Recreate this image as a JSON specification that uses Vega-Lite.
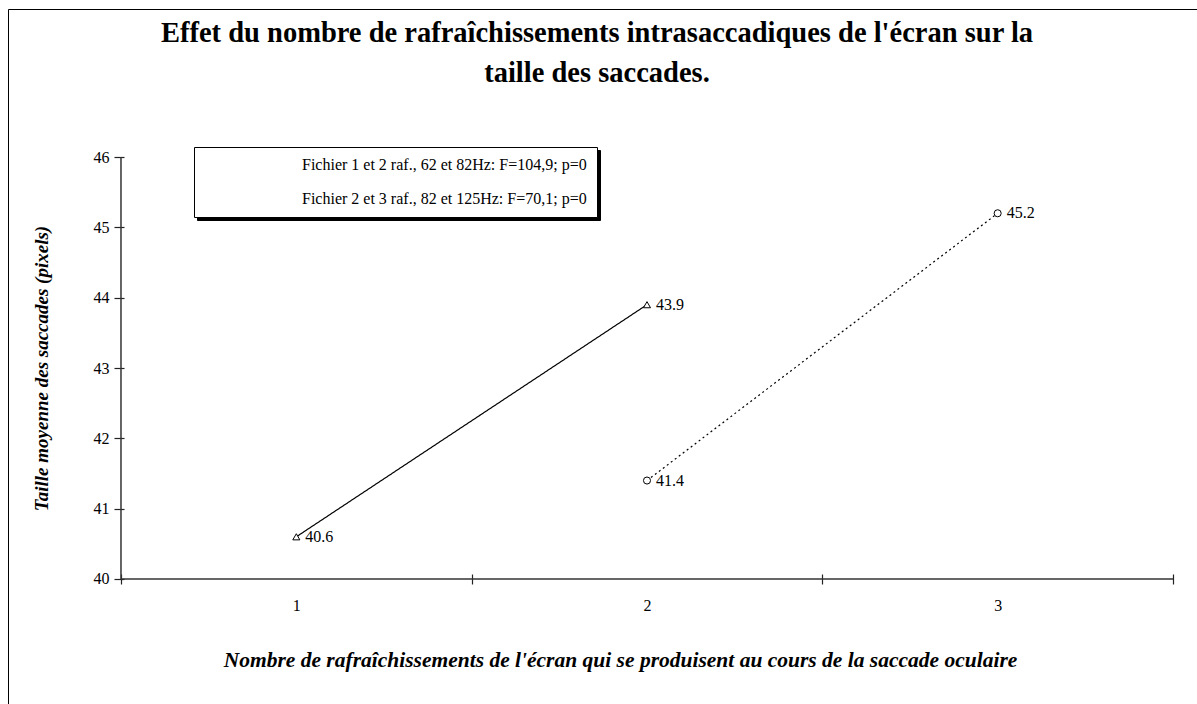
{
  "$schema": "https://vega.github.io/schema/vega-lite/v6.json",
  "width": 1200,
  "height": 718,
  "padding": {"left": 8, "top": 9, "right": 0, "bottom": 0},
  "autosize": {"type": "none"},
  "background": "white",
  "config": {"view": {"stroke": "black", "strokeWidth": 1}, "font": "Liberation Serif"},
  "title": {
    "text": ["Effet du nombre de rafraîchissements intrasaccadiques de l'écran sur la", "taille des saccades."],
    "font": "Liberation Serif",
    "fontSize": 28.5,
    "fontWeight": "bold",
    "color": "black",
    "anchor": "middle",
    "offset": -78,
    "dx": -11,
    "lineHeight": 40,
    "baseline": "top"
  },
  "data": {
    "values": [
      {"file": "1-2", "series": "Fichier 1 et 2 raf., 62 et 82Hz: F=104,9; p=0", "x": 1, "y": 40.6},
      {"file": "1-2", "series": "Fichier 1 et 2 raf., 62 et 82Hz: F=104,9; p=0", "x": 2, "y": 43.9},
      {"file": "2-3", "series": "Fichier 2 et 3 raf., 82 et 125Hz: F=70,1; p=0", "x": 2, "y": 41.4},
      {"file": "2-3", "series": "Fichier 2 et 3 raf., 82 et 125Hz: F=70,1; p=0", "x": 3, "y": 45.2}
    ]
  },
  "resolve": {"scale": {"shape": "independent"}, "legend": {"shape": "independent"}},
  "encoding": {
    "x": {
      "field": "x",
      "type": "quantitative",
      "scale": {"domain": [0.1778, 3.5998], "nice": false, "zero": false},
      "axis": {
        "values": [0.5, 1, 1.5, 2, 2.5, 3, 3.5],
        "offset": -153,
        "domain": false,
        "grid": false,
        "tickSize": 10,
        "tickColor": "#222",
        "tickWidth": 1.2,
        "tickOpacity": {"condition": {"test": "datum.value % 1 !== 0", "value": 1}, "value": 0},
        "labelExpr": "datum.value % 1 === 0 ? format(datum.value, 'd') : ''",
        "labelPadding": 13,
        "labelFont": "Liberation Serif",
        "labelFontSize": 16,
        "labelColor": "black",
        "labelFlush": false,
        "labelOverlap": false,
        "title": "Nombre de rafraîchissements de l'écran qui se produisent au cours de la saccade oculaire",
        "titleFont": "Liberation Serif",
        "titleFontSize": 21.5,
        "titleFontWeight": "bold",
        "titleFontStyle": "italic",
        "titleColor": "black",
        "titleX": 612,
        "titleY": 86,
        "titleBaseline": "middle"
      }
    },
    "y": {
      "field": "y",
      "type": "quantitative",
      "scale": {"domain": [37.8957, 48.1043], "nice": false, "zero": false},
      "axis": {
        "values": [40, 41, 42, 43, 44, 45, 46],
        "format": "d",
        "offset": -116,
        "domain": false,
        "grid": false,
        "tickSize": 10,
        "tickColor": "#222",
        "tickWidth": 1.2,
        "labelPadding": 5,
        "labelFont": "Liberation Serif",
        "labelFontSize": 16,
        "labelColor": "black",
        "labelFlush": false,
        "labelOverlap": false,
        "title": "Taille moyenne des saccades (pixels)",
        "titleFont": "Liberation Serif",
        "titleFontSize": 19,
        "titleFontWeight": "bold",
        "titleFontStyle": "italic",
        "titleColor": "black",
        "titleX": -83,
        "titleBaseline": "middle"
      }
    }
  },
  "layer": [
    {
      "data": {"values": [{"x": 0.5, "x2": 3.5, "y": 40}]},
      "mark": {"type": "rule", "color": "#333", "strokeWidth": 1.5},
      "encoding": {"x2": {"field": "x2"}}
    },
    {
      "data": {"values": [{"x": 0.5, "y": 40, "y2": 46}]},
      "mark": {"type": "rule", "color": "#333", "strokeWidth": 1.5},
      "encoding": {"y2": {"field": "y2"}}
    },
    {
      "mark": {"type": "line", "color": "black", "strokeWidth": 1.2},
      "encoding": {
        "detail": {"field": "file", "type": "nominal"},
        "strokeDash": {"field": "file", "type": "nominal", "scale": {"range": [[1, 0], [2, 3]]}, "legend": null}
      }
    },
    {
      "transform": [{"filter": "false"}],
      "mark": {"type": "point", "filled": true, "fill": "black", "stroke": "black", "strokeWidth": 1, "size": 50},
      "encoding": {
        "shape": {
          "field": "series",
          "type": "nominal",
          "scale": {
            "domain": ["Fichier 1 et 2 raf., 62 et 82Hz: F=104,9; p=0", "Fichier 2 et 3 raf., 82 et 125Hz: F=70,1; p=0"],
            "range": ["circle", "circle"]
          },
          "legend": {
            "title": null,
            "orient": "none",
            "legendX": 189,
            "legendY": 141,
            "direction": "vertical",
            "padding": 10,
            "strokeColor": "black",
            "fillColor": "black",
            "symbolSize": 50,
            "symbolFillColor": "black",
            "symbolStrokeColor": "black",
            "symbolOffset": 60,
            "labelOffset": 22,
            "rowPadding": 18,
            "labelFont": "Liberation Serif",
            "labelFontSize": 16,
            "labelColor": "black",
            "labelLimit": 0
          }
        }
      }
    },
    {
      "mark": {"type": "point", "filled": true, "fill": "white", "stroke": "black", "strokeWidth": 1, "size": 50, "opacity": 1},
      "encoding": {
        "shape": {
          "field": "series",
          "type": "nominal",
          "scale": {
            "domain": ["Fichier 1 et 2 raf., 62 et 82Hz: F=104,9; p=0", "Fichier 2 et 3 raf., 82 et 125Hz: F=70,1; p=0"],
            "range": ["triangle-up", "circle"]
          },
          "legend": {
            "title": null,
            "orient": "none",
            "legendX": 186,
            "legendY": 138,
            "direction": "vertical",
            "padding": 10,
            "strokeColor": "black",
            "fillColor": "white",
            "symbolSize": 50,
            "symbolFillColor": "white",
            "symbolStrokeColor": "black",
            "symbolStrokeWidth": 1,
            "symbolOffset": 60,
            "labelOffset": 22,
            "rowPadding": 18,
            "labelFont": "Liberation Serif",
            "labelFontSize": 16,
            "labelColor": "black",
            "labelLimit": 0
          }
        }
      }
    },
    {
      "mark": {"type": "text", "align": "left", "baseline": "middle", "dx": 9, "fontSize": 16, "font": "Liberation Serif", "color": "black"},
      "encoding": {"text": {"field": "y", "type": "quantitative", "format": ".1f"}}
    }
  ]
}
